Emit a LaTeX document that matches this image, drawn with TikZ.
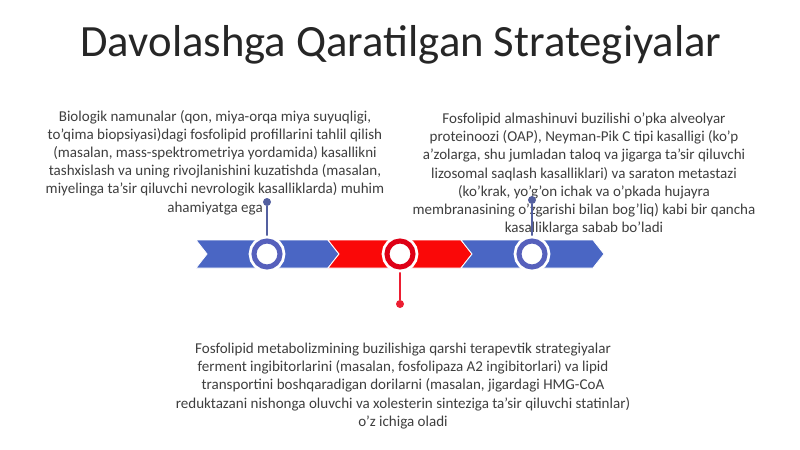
\documentclass[tikz,border=0pt]{standalone}
\usepackage{fontspec}
\setmainfont{Carlito}
\usepackage{tikz}
\definecolor{segblue}{RGB}{74,102,196}
\definecolor{ringblue}{RGB}{86,96,188}
\definecolor{stemblue}{RGB}{84,96,160}
\definecolor{segred}{RGB}{250,8,8}
\definecolor{ringred}{RGB}{222,0,22}
\definecolor{stemred}{RGB}{236,30,50}
\definecolor{txtgray}{RGB}{62,62,62}

\begin{document}
\begin{tikzpicture}[
    x=0.025cm, y=-0.025cm,
    seg/.style={draw=white, line width=0.6pt},
    ring/.style={circle, fill=white, draw=#1, line width=3.6pt, minimum size=0.65cm, inner sep=0pt,
        preaction={draw=white, line width=7.6pt}},
    dot/.style={circle, fill=#1, inner sep=0pt, minimum size=0.2cm},
    stem/.style={draw=#1, line width=1.2pt},
    txt/.style={align=center, text=txtgray, font=\fontsize{10.7pt}{12.9pt}\selectfont},
]
\useasboundingbox (0,0) rectangle (800,449);

% Title
\node[text=black!85, font=\fontsize{31.8pt}{36pt}\selectfont] (title) at (401,45) {Davolashga Qaratilgan Strategiyalar};

% Timeline - three chevrons
\fill[segblue, seg] (196,240) -- (328,240) -- (339,254) -- (328,268) -- (196,268) -- (207,254) -- cycle;
\fill[segred, seg] (328,240) -- (461,240) -- (472,254) -- (461,268) -- (328,268) -- (339,254) -- cycle;
\fill[segblue, seg] (461,240) -- (593,240) -- (604,254) -- (593,268) -- (461,268) -- (472,254) -- cycle;

% Texts
\node[txt] (left) at (215,162.5) {
    Biologik namunalar (qon, miya-orqa miya suyuqligi,\\
    to'qima biopsiyasi)dagi fosfolipid profillarini tahlil qilish\\
    (masalan, mass-spektrometriya yordamida) kasallikni\\
    tashxislash va uning rivojlanishini kuzatishda (masalan,\\
    miyelinga ta'sir qiluvchi nevrologik kasalliklarda) muhim\\
    ahamiyatga ega
};

\node[txt] (right) at (584,174) {
    Fosfolipid almashinuvi buzilishi o'pka alveolyar\\
    proteinoozi (OAP), Neyman-Pik C tipi kasalligi (ko'p\\
    a'zolarga, shu jumladan taloq va jigarga ta'sir qiluvchi\\
    lizosomal saqlash kasalliklari) va saraton metastazi\\
    (ko'krak, yo'g'on ichak va o'pkada hujayra\\
    membranasining o'zgarishi bilan bog'liq) kabi bir qancha\\
    kasalliklarga sabab bo'ladi
};

\node[txt] (bottom) at (403,386) {
    Fosfolipid metabolizmining buzilishiga qarshi terapevtik strategiyalar\\
    ferment ingibitorlarini (masalan, fosfolipaza A2 ingibitorlari) va lipid\\
    transportini boshqaradigan dorilarni (masalan, jigardagi HMG-CoA\\
    reduktazani nishonga oluvchi va xolesterin sinteziga ta'sir qiluvchi statinlar)\\
    o'z ichiga oladi
};

% Markers
\node[dot=stemblue] (d1) at (267,202) {};
\node[dot=stemred] (d2) at (400,304) {};
\node[dot=stemblue] (d3) at (532,200) {};

\draw[stem=stemblue] (267,254) -- (d1);
\draw[stem=stemred] (400,254) -- (d2);
\draw[stem=stemblue] (532,254) -- (d3);

\node[ring=ringblue] (c1) at (267,254) {};
\node[ring=ringred] (c2) at (400,254) {};
\node[ring=ringblue] (c3) at (532,254) {};

\end{tikzpicture}
\end{document}
